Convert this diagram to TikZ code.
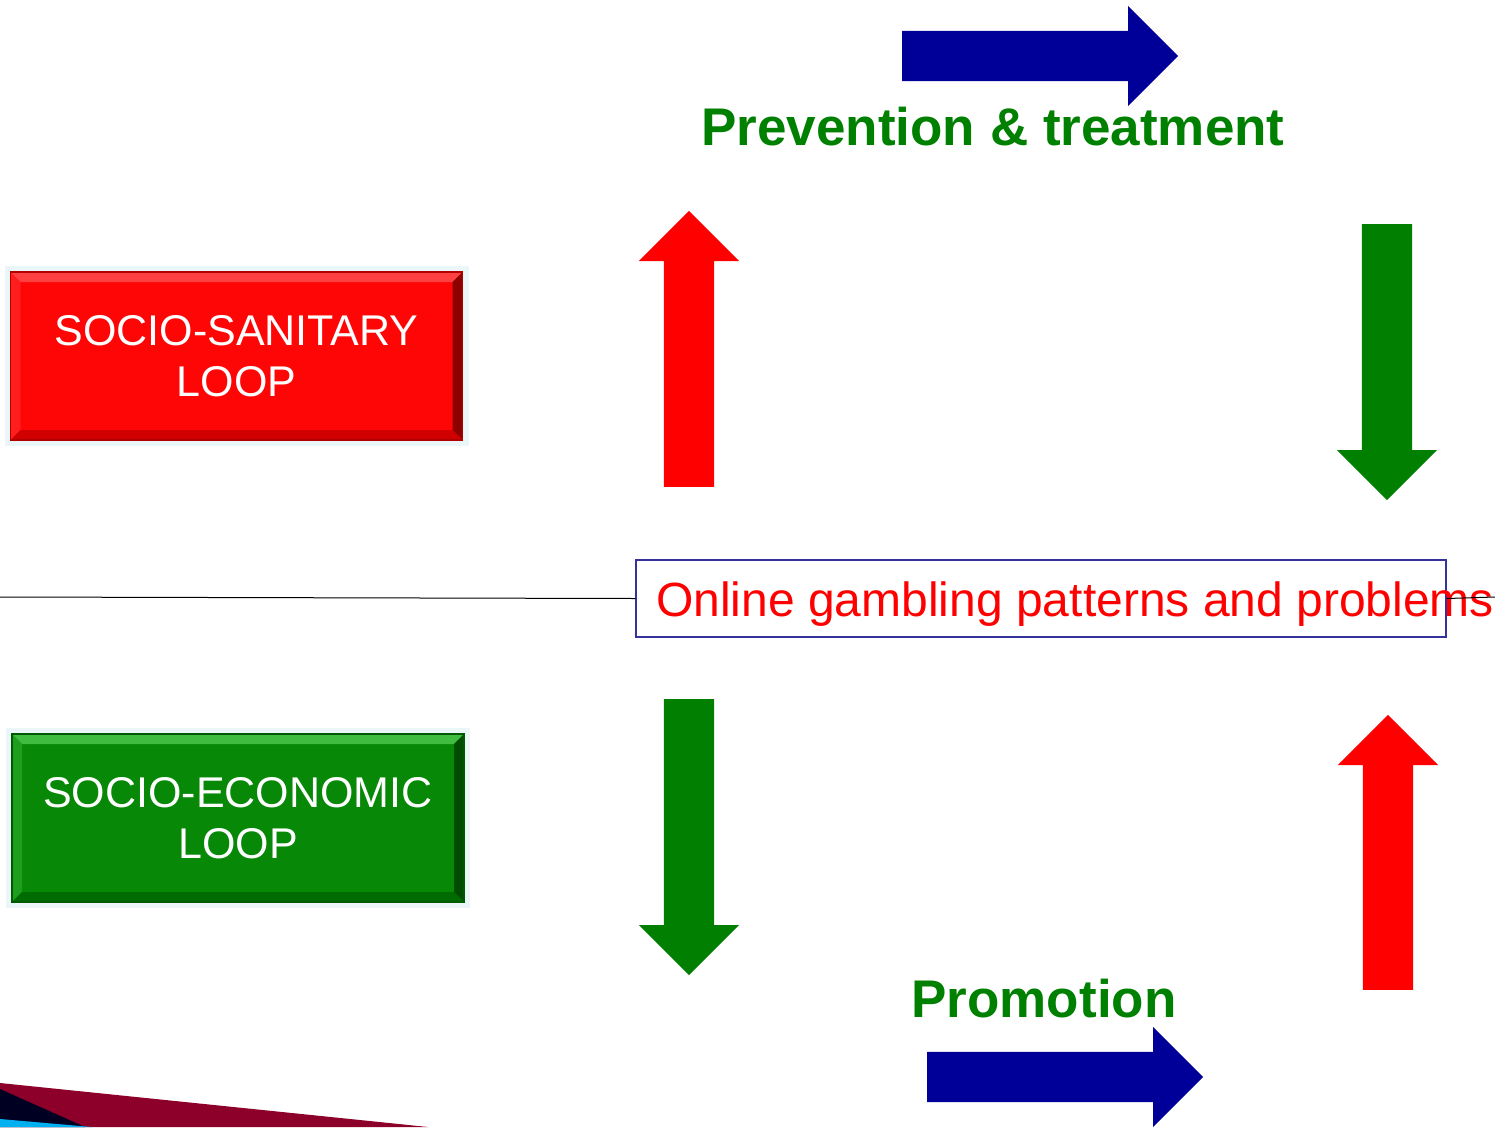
\documentclass[tikz,border=0pt]{standalone}
\usepackage{fontspec}
\setmainfont{Liberation Sans}
\usepackage{tikz}
\usetikzlibrary{positioning,calc,shapes.arrows}
\definecolor{redA}{HTML}{FF0000}
\definecolor{greenA}{HTML}{007F00}
\definecolor{navyA}{HTML}{000099}
\definecolor{textgreen}{HTML}{008000}
\definecolor{boxblue}{HTML}{333399}
\definecolor{glow}{HTML}{EAF6F8}
\definecolor{crimson}{HTML}{8C0029}
\definecolor{inknavy}{HTML}{000022}
\definecolor{skyblue}{HTML}{00B0F0}
\definecolor{redbox}{HTML}{FF0606}
\definecolor{greenbox}{HTML}{078807}
\tikzset{
  bigarrow/.style={single arrow, draw=none, inner xsep=0pt, inner ysep=25pt,
    minimum width=100pt, single arrow head extend=25pt,
    single arrow head indent=0pt, anchor=tail},
  loopbox/.style n args={5}{draw=#2, line width=1.5pt, fill=#1, text=white,
    minimum width=452pt, minimum height=168pt, align=center,
    font=\fontsize{43}{51}\selectfont,
    preaction={draw=glow, line width=12pt},
    path picture={
      \coordinate (bl) at (path picture bounding box.south west);
      \coordinate (tr) at (path picture bounding box.north east);
      \coordinate (tl) at (path picture bounding box.north west);
      \coordinate (br) at (path picture bounding box.south east);
      \fill[#3] (tl) -- (tr) -- ([shift={(-10pt,-10pt)}]tr) -- ([shift={(10pt,-10pt)}]tl) -- cycle;
      \fill[#3!40!#1] (tl) -- (bl) -- ([shift={(10pt,10pt)}]bl) -- ([shift={(10pt,-10pt)}]tl) -- cycle;
      \fill[#4] (tr) -- (br) -- ([shift={(-10pt,10pt)}]br) -- ([shift={(-10pt,-10pt)}]tr) -- cycle;
      \fill[#5] (bl) -- (br) -- ([shift={(-10pt,10pt)}]br) -- ([shift={(10pt,10pt)}]bl) -- cycle;
    }},
}

\begin{document}
\begin{tikzpicture}[x=1pt,y=-1pt]
  \useasboundingbox (0,0) rectangle (1495,1127);
  % corner decoration
  \fill[crimson] (0,1083) -- (428,1127) -- (0,1127) -- cycle;
  \fill[inknavy] (0,1089) -- (85,1127) -- (0,1127) -- cycle;
  \fill[skyblue] (0,1119) -- (92,1127) -- (0,1127) -- cycle;

  \node[loopbox={redbox}{red!70!black}{red!75!white}{red!55!black}{red!82!black}] (n00) at (236.5,356) {SOCIO-SANITARY\\LOOP};
  \node[loopbox={greenbox}{green!35!black}{green!65!black!75!white}{green!30!black}{green!42!black}] (n10) at (238,818) {SOCIO-ECONOMIC\\LOOP};

  \node[font=\bfseries\fontsize{53}{60}\selectfont, text=textgreen, anchor=base] (n01) at (993,145) {Prevention \& treatment};
  \node[font=\bfseries\fontsize{53}{60}\selectfont, text=textgreen, anchor=base] (n21) at (1044,1017) {Promotion};

  \node[draw=boxblue, line width=1.2pt, minimum width=810pt, minimum height=77pt] (n11) at (1041,598.5) {};
  \node[font=\fontsize{48}{56}\selectfont, text=redA, anchor=base west, inner sep=0pt] (n12) at (656,616) {Online gambling patterns and problems};

  \coordinate (c0) at (0,597);
  \coordinate (c1) at (1495,597);
  \draw[line width=1pt] (c0) -- (n11.west) (n11.east) -- (c1);

  \node[bigarrow, fill=navyA, minimum height=276pt] (a0) at (902,56) {};
  \node[bigarrow, fill=navyA, minimum height=276pt] (a1) at (927,1077) {};
  \node[bigarrow, fill=redA, minimum height=276pt, rotate=90] (a2) at (689,487) {};
  \node[bigarrow, fill=greenA, minimum height=276pt, rotate=-90] (a3) at (1387,224) {};
  \node[bigarrow, fill=greenA, minimum height=276pt, rotate=-90] (a4) at (689,699) {};
  \node[bigarrow, fill=redA, minimum height=275pt, rotate=90] (a5) at (1388,990) {};
\end{tikzpicture}
\end{document}
